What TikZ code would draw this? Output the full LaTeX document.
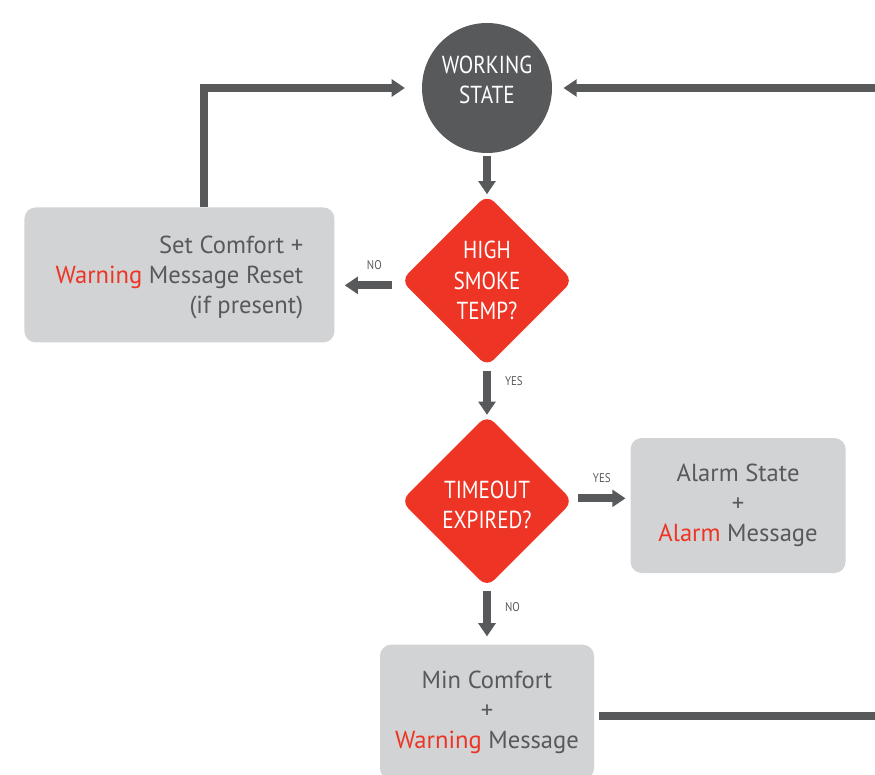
\documentclass[tikz,border=0pt]{standalone}
\usepackage{fontspec}
\setmainfont{PT Sans}
\newfontfamily\condfont[FakeStretch=0.86]{PT Sans}
\usetikzlibrary{arrows.meta,positioning,shapes.geometric,calc}
\definecolor{ink}{HTML}{58595B}
\definecolor{alert}{HTML}{EE3424}
\definecolor{panel}{HTML}{D1D3D4}

\begin{document}
\begin{tikzpicture}[
  state/.style={circle, fill=ink, text=white, minimum size=3.25cm, inner sep=0pt, align=center, text depth=0.4cm, font=\condfont\fontsize{17.5}{21.5}\selectfont},
  decision/.style={diamond, aspect=1, fill=alert, text=white, minimum size=4.3cm, inner sep=0pt, rounded corners=7pt, align=center, font=\condfont\fontsize{17.5}{21.5}\selectfont},
  action/.style={fill=panel, rounded corners=8pt, text=ink, minimum height=3.375cm, align=center, font=\fontsize{17.5}{21.5}\selectfont},
  arr/.style={draw=ink, line width=0.2cm, -{Triangle[length=0.33cm, width=0.42cm]}},
  pipe/.style={draw=ink, line width=0.2cm},
  lbl/.style={text=ink, inner sep=0pt, font=\condfont\fontsize{9}{10}\selectfont}
]
\useasboundingbox (0,0) rectangle (21.875,-19.375);
\coordinate (edge) at (21.875,0);

\node[state] (work) at (12.175,-2.2) {WORKING\\STATE};
\node[decision, below=1.025cm of work] (smoke) {HIGH\\SMOKE\\TEMP?};
\node[decision, below=1.2cm of smoke, text height=1.4cm] (timeout) {TIMEOUT\\EXPIRED?};

\node[action, minimum width=7.75cm, left=1.65cm of smoke, yshift=0.14cm, align=right, text depth=0pt] (setbox) {Set Comfort +\\{\color{alert}Warning} Message Reset\\(if present)};
\node[action, minimum width=5.375cm, right=1.425cm of timeout, yshift=-0.11cm] (alarm) {Alarm State\\+\\{\color{alert}Alarm} Message};
\node[action, minimum width=5.35cm, below=1.425cm of timeout] (minbox) {Min Comfort\\+\\{\color{alert}Warning} Message};

\draw[arr, shorten <=2pt] (work) -- (smoke);
\draw[arr, shorten <=0.22cm, shorten >=0.25cm] ([yshift=-0.12cm]smoke.west) -- ([yshift=-0.12cm]smoke.west -| setbox.east)
  node[lbl, pos=0.4, above=0.3cm] (nosmoke) {NO};
\draw[arr, shorten <=0.1cm] (smoke) -- (timeout)
  node[lbl, pos=0.3, right=0.35cm] (yessmoke) {YES};
\draw[arr, shorten <=0.12cm, shorten >=0.12cm] ([yshift=0.07cm]timeout.east) -- ([yshift=0.07cm]timeout.east -| alarm.west)
  node[lbl, midway, above=0.3cm] (yestime) {YES};
\draw[arr, shorten <=0.1cm, shorten >=0.2cm] (timeout) -- (minbox)
  node[lbl, pos=0.35, right=0.35cm] (notime) {NO};

% loops back to the working state
\draw[arr, shorten >=0.42cm] ([xshift=0.625cm]setbox.north) |- (work.west);
\draw[pipe, shorten <=0.12cm] ([yshift=-0.09cm]minbox.east) -- ([yshift=-0.09cm]minbox.east -| edge);
\draw[arr, shorten >=0.28cm] (work.east -| edge) -- (work.east);
\end{tikzpicture}
\end{document}
